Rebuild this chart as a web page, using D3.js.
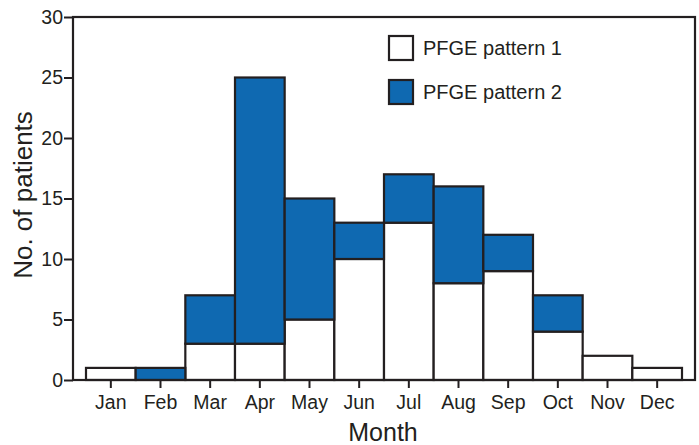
<!DOCTYPE html>
<html><head><meta charset="utf-8">
<script src="https://cdn.jsdelivr.net/npm/d3@7"></script>
<style>body{margin:0;background:#fff}svg{display:block}text{font-family:"Liberation Sans",Arial,sans-serif;fill:#231f20}</style>
</head><body><svg id="c" width="699" height="445"></svg>
<script>
const months = ["Jan","Feb","Mar","Apr","May","Jun","Jul","Aug","Sep","Oct","Nov","Dec"];
const pattern1 = [1,0,3,3,5,10,13,8,9,4,2,1];
const pattern2 = [0,1,4,22,10,3,4,8,3,3,0,0];
const seriesNames = ["PFGE pattern 1","PFGE pattern 2"];
const yTicks = [0,5,10,15,20,25,30];

const svg = d3.select("#c");
const frame = {l:73, r:695, t:17, b:380};
const ink = "#231f20", blue = "#0f69b1";
const x = d3.scaleBand().domain(months).range([86, 682]).padding(0);
const y = d3.scaleLinear().domain([0,30]).range([frame.b, frame.t]);

const data = months.map((m,i)=>({month:m, p1:pattern1[i], p2:pattern2[i]}));
const stack = d3.stack().keys(["p1","p2"])(data);
const fills = ["#ffffff", blue];

stack.forEach((layer,li)=>{
  svg.append("g").selectAll("rect").data(layer.filter(d=>d[1]-d[0]>0)).join("rect")
    .attr("x", d=>x(d.data.month)).attr("width", x.bandwidth())
    .attr("y", d=>y(d[1])).attr("height", d=>y(d[0])-y(d[1]))
    .attr("fill", fills[li]).attr("stroke", ink).attr("stroke-width", 2.2);
});

// frame
svg.append("rect").attr("x",frame.l).attr("y",frame.t).attr("width",frame.r-frame.l).attr("height",frame.b-frame.t)
  .attr("fill","none").attr("stroke",ink).attr("stroke-width",2.2);

// y axis
const yAx = svg.append("g").attr("transform",`translate(${frame.l},0)`)
  .call(d3.axisLeft(y).tickValues(yTicks).tickSize(9).tickPadding(1));
yAx.select(".domain").remove();
yAx.selectAll("line").attr("stroke",ink).attr("stroke-width",2);
yAx.selectAll("text").attr("font-size",19.5).attr("fill",ink).style("font-family","Liberation Sans, Arial, sans-serif");

// x axis
const xAx = svg.append("g").attr("transform",`translate(0,${frame.b})`)
  .call(d3.axisBottom(x).tickSize(8).tickPadding(7));
xAx.select(".domain").remove();
xAx.selectAll("line").attr("stroke",ink).attr("stroke-width",2);
xAx.selectAll("text").attr("font-size",19.5).attr("fill",ink).style("font-family","Liberation Sans, Arial, sans-serif");

// axis titles
svg.append("text").attr("x",383).attr("y",441).attr("text-anchor","middle")
  .attr("font-size",25).text("Month");
svg.append("text").attr("transform",`translate(32,195) rotate(-90)`).attr("text-anchor","middle")
  .attr("font-size",26).text("No. of patients");

// legend
const lg = svg.append("g");
seriesNames.forEach((n,i)=>{
  const yy = 36 + i*44;
  lg.append("rect").attr("x",389).attr("y",yy).attr("width",24).attr("height",24)
    .attr("fill",fills[i]).attr("stroke",ink).attr("stroke-width",2.2);
  lg.append("text").attr("x",423).attr("y",yy+19).attr("font-size",20).text(n);
});
</script></body></html>
